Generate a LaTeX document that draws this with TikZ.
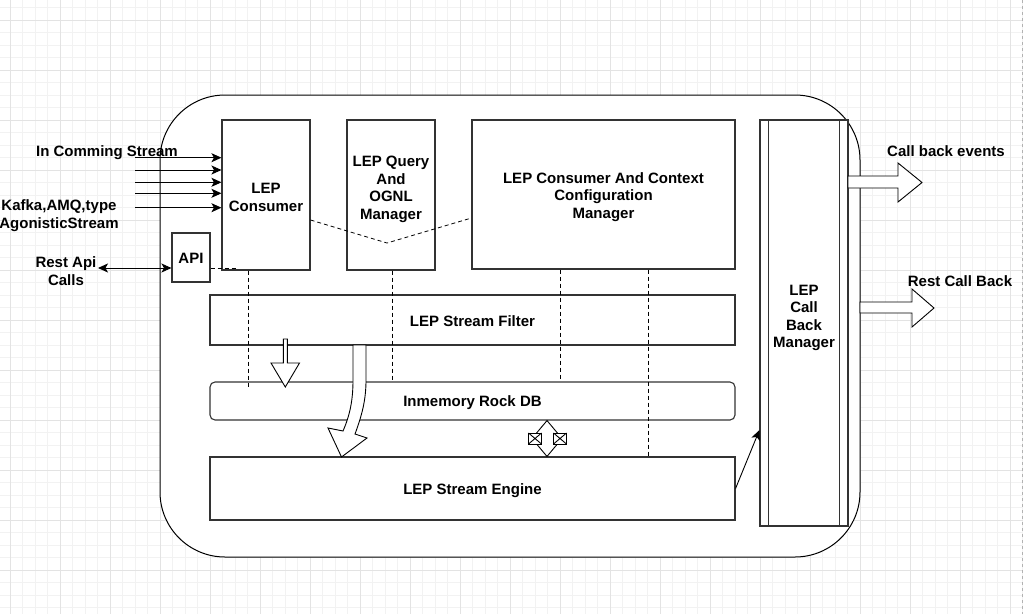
\documentclass[tikz,border=0pt]{standalone}
\usepackage{fontspec}
\setmainfont{Liberation Sans}
\usetikzlibrary{arrows.meta}
\definecolor{gridminor}{HTML}{F2F2F2}
\definecolor{gridmajor}{HTML}{E3E3E3}
\definecolor{edge}{HTML}{333333}
\begin{document}
\begin{tikzpicture}[x=1pt,y=-1pt,
  txtfont/.style={font=\fontsize{15}{17.6}\selectfont\bfseries},
  box/.style={draw=edge,line width=1.1pt,fill=white,inner sep=0pt},
  lbl/.style={inner sep=0pt,align=center,txtfont},
  tip/.style={-{Stealth[length=10pt,width=9pt,inset=2.5pt]}},
  arr/.style={tip,line width=0.9pt},
  dsh/.style={dash pattern=on 4pt off 3pt,line width=0.8pt},
  blk/.style={draw=black,fill=white,line width=0.9pt,line join=miter}
]
\useasboundingbox (0,0) rectangle (1023,614);
% grid
\foreach \i in {0,...,82} \draw[gridminor,line width=0.8pt] ({-2.5+12.5*\i},0) -- ++(0,614);
\foreach \j in {0,...,49} \draw[gridminor,line width=0.8pt] (0,{7.5+12.5*\j}) -- ++(1023,0);
\foreach \i in {0,...,20} \draw[gridmajor,line width=0.8pt] ({10+50*\i},0) -- ++(0,614);
\foreach \j in {0,...,12} \draw[gridmajor,line width=0.8pt] (0,{20+50*\j}) -- ++(1023,0);
\draw[gray!60,dash pattern=on 3pt off 3pt,line width=0.8pt] (1022,0) -- (1022,614);

% outer container
\node[draw=black,line width=1pt,fill=white,rounded corners=65pt,inner sep=0pt,
      minimum width=700pt,minimum height=462pt] (outer) at (510,326) {};

% boxes
\node[box,minimum width=88pt,minimum height=150pt] (cons) at (266,195) {};
\node[box,minimum width=88pt,minimum height=150pt] (qry) at (391,195) {};
\node[box,minimum width=263pt,minimum height=149pt] (cfg) at (603.5,194.5) {};
\node[box,minimum width=38pt,minimum height=49pt] (api) at (191,257.5) {};
\node[box,minimum width=525pt,minimum height=50pt] (flt) at (472.5,320) {};
\node[box,rounded corners=5pt,minimum width=525pt,minimum height=38pt] (rdb) at (472.5,401) {};
\node[box,minimum width=525pt,minimum height=63pt] (eng) at (472.5,488.5) {};
\node[box,minimum width=88pt,minimum height=406pt] (cb) at (804,323) {};
\draw[edge,line width=1.1pt] ([xshift=9pt]cb.north west) -- ([xshift=9pt]cb.south west)
  ([xshift=-9pt]cb.north east) -- ([xshift=-9pt]cb.south east);

% box texts
\node[lbl] at ([yshift=-2.5pt]cons.center) {LEP\\Consumer};
\node[lbl] at ([yshift=5.5pt]qry.center) {LEP Query\\And\\OGNL\\Manager};
\node[lbl] at ([yshift=-2.5pt]cfg.center) {LEP Consumer And Context\\Configuration\\Manager};
\node[lbl] at ([yshift=-1pt]api.center) {API};
\node[lbl] at ([yshift=-1.5pt]flt.center) {LEP Stream Filter};
\node[lbl] at ([yshift=-2pt]rdb.center) {Inmemory Rock DB};
\node[lbl] at ([yshift=-2.5pt]eng.center) {LEP Stream Engine};
\node[lbl] at ([yshift=5pt]cb.center) {LEP\\Call\\Back\\Manager};

% outside labels
\node[lbl] (lin) at (107,152.5) {In Comming Stream};
\node[lbl] (lkaf) at (59,215.5) {Kafka,AMQ,type\\AgonisticStream};
\node[lbl] (lrest) at (66,271) {Rest Api\\Calls};
\node[lbl] (lcbe) at (946,151) {Call back events};
\node[lbl] (lrcb) at (960,281) {Rest Call Back};

% incoming stream arrows
\foreach \y [count=\k] in {157.7,170,182.3,193.3,207.7} {
  \coordinate (in\k) at (135,\y);
  \draw[arr] (in\k) -- (in\k -| cons.west);
}
% rest api double arrow
\coordinate (rest) at (98,268);
\draw[line width=0.9pt,{Stealth[length=10pt,width=9pt,inset=2.5pt]}-{Stealth[length=10pt,width=9pt,inset=2.5pt]}] (rest) -- (rest -| api.west);
\draw[dsh] (rest -| api.east) -- ++(25,0);

% dashed V between consumer, query and config
\coordinate (vmid) at (387,243);
\draw[dsh] ([yshift=-25pt]cons.east) -- (vmid) -- ([yshift=-23.5pt]cfg.west);

% vertical dashed lines
\draw[dsh] ([xshift=-18pt]cons.south) -- ++(0,116);
\draw[dsh] ([xshift=1pt]qry.south) -- ([xshift=1pt]qry.south |- rdb.north);
\draw[dsh] ([xshift=-43.5pt]cfg.south) -- ([xshift=-43.5pt]cfg.south |- rdb.north);
\draw[dsh] ([xshift=44.5pt]cfg.south) -- ([xshift=44.5pt]cfg.south |- eng.north);

% small block arrow filter -> rock db
\draw[blk] (283.3,339) -- (283.3,363) -- (271,363) -- (285.3,387) -- (299.5,363) -- (287.3,363) -- (287.3,339) -- cycle;

% large curved block arrow filter -> engine
\draw[blk] (353,345) -- (353,380) .. controls (353,400) and (350,415) .. (343,431)
  -- (328,428) -- (341.5,457) -- (367,438) -- (355,434)
  .. controls (362,415) and (366,400) .. (366,380) -- (366,345) -- cycle;

% diamond link rock db <-> engine
\draw[line width=0.9pt,fill=white] (rdb.south -| 547,0) -- (532,438.5) -- (eng.north -| 547,0) -- (562,438.5) -- cycle;
\foreach \cx in {535,560} {
  \draw[line width=0.9pt,fill=white] ({\cx-6.5},433) rectangle ({\cx+6.5},444);
  \draw[line width=0.9pt] ({\cx-6.5},433) -- ({\cx+6.5},444) ({\cx-6.5},444) -- ({\cx+6.5},433);
}

% engine -> callback manager
\draw[arr] (eng.east) -- ([yshift=-107pt]cb.west);

% callback output block arrows
\draw[blk] (848,176) -- (898,176) -- (898,163) -- (922,182.5) -- (898,202) -- (898,188) -- (848,188) -- cycle;
\draw[blk] (860,302) -- (912,302) -- (912,289) -- (934,308) -- (912,327) -- (912,313) -- (860,313) -- cycle;
\end{tikzpicture}
\end{document}
